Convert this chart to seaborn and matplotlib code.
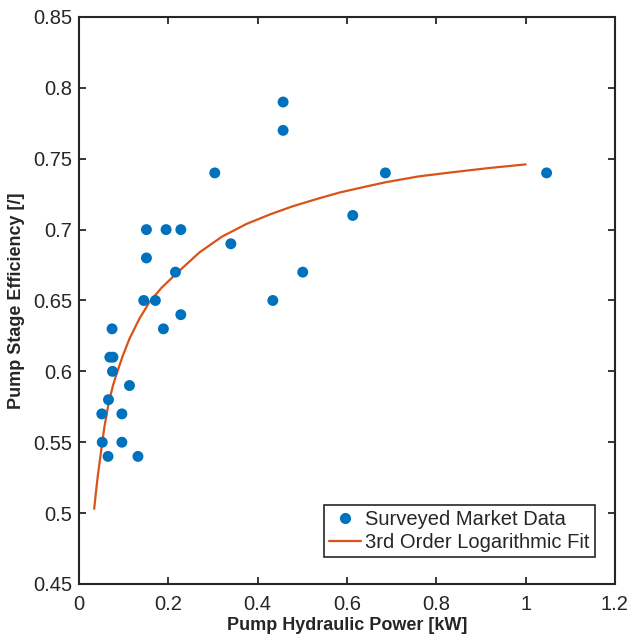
import matplotlib
matplotlib.use("Agg")
import matplotlib.pyplot as plt
import seaborn as sns
import pandas as pd
from matplotlib.lines import Line2D

# Surveyed market data
power_kw = [0.151, 0.195, 0.228, 0.340, 0.151, 0.216, 0.145, 0.171, 0.228,
            0.074, 0.189, 0.069, 0.076, 0.075, 0.113, 0.066, 0.051, 0.096,
            0.052, 0.096, 0.065, 0.132,
            0.457, 0.457, 0.304, 0.686, 1.047, 0.613, 0.501, 0.434]
efficiency = [0.70, 0.70, 0.70, 0.69, 0.68, 0.67, 0.65, 0.65, 0.64,
              0.63, 0.63, 0.61, 0.61, 0.60, 0.59, 0.58, 0.57, 0.57,
              0.55, 0.55, 0.54, 0.54,
              0.79, 0.77, 0.74, 0.74, 0.74, 0.71, 0.67, 0.65]

# 3rd order logarithmic fit
fit_x = [0.034, 0.038, 0.042, 0.050, 0.057, 0.066, 0.076, 0.084, 0.098, 0.113,
         0.135, 0.158, 0.185, 0.218, 0.270, 0.320, 0.375, 0.430, 0.479, 0.539,
         0.584, 0.640, 0.688, 0.760, 0.837, 0.920, 1.0]
fit_y = [0.503, 0.515, 0.526, 0.545, 0.561, 0.577, 0.590, 0.598, 0.611, 0.623,
         0.637, 0.649, 0.659, 0.669, 0.684, 0.695, 0.704, 0.711, 0.7165, 0.7222,
         0.7262, 0.7302, 0.7335, 0.7375, 0.7405, 0.7435, 0.746]

xticks = [0, 0.2, 0.4, 0.6, 0.8, 1, 1.2]
xtick_labels = ["0", "0.2", "0.4", "0.6", "0.8", "1", "1.2"]
yticks = [0.45, 0.5, 0.55, 0.6, 0.65, 0.7, 0.75, 0.8, 0.85]
ytick_labels = ["0.45", "0.5", "0.55", "0.6", "0.65", "0.7", "0.75", "0.8", "0.85"]

sns.set_style("white")
plt.rcParams['font.family'] = ['Liberation Sans', 'DejaVu Sans']

BLUE = "#0072BD"
ORANGE = "#D95319"
AXC = "#262626"

fig = plt.figure(figsize=(6.29, 6.36), dpi=100)
ax = fig.add_axes([0.1256, 0.0818, 0.852, 0.8915])

df = pd.DataFrame({"x": power_kw, "y": efficiency})
fit = pd.DataFrame({"x": fit_x, "y": fit_y})

sns.scatterplot(data=df, x="x", y="y", ax=ax, color=BLUE, s=62,
                edgecolor="none", linewidth=0, zorder=3)
sns.lineplot(data=fit, x="x", y="y", ax=ax, color=ORANGE, linewidth=1.6,
             sort=False, estimator=None, zorder=2)

ax.set_xlim(0, 1.2)
ax.set_ylim(0.45, 0.85)
ax.set_xticks(xticks)
ax.set_xticklabels(xtick_labels)
ax.set_yticks(yticks)
ax.set_yticklabels(ytick_labels)

ax.set_xlabel("Pump Hydraulic Power [kW]", fontsize=13, fontweight="bold", labelpad=2)
ax.set_ylabel("Pump Stage Efficiency [/]", fontsize=13, fontweight="bold", labelpad=6)

for sp in ax.spines.values():
    sp.set_visible(True)
    sp.set_color(AXC)
    sp.set_linewidth(1.5)

ax.tick_params(axis="both", which="major", direction="in", length=5, width=1.3,
               color=AXC, labelsize=14.5, labelcolor=AXC,
               top=True, right=True, bottom=True, left=True)
ax.tick_params(axis="x", pad=8)
ax.tick_params(axis="y", pad=5)

handles = [
    Line2D([], [], marker="o", linestyle="none", color=BLUE, markersize=7),
    Line2D([], [], color=ORANGE, linewidth=1.6),
]
leg = ax.legend(handles, ["Surveyed Market Data", "3rd Order Logarithmic Fit"],
                loc="lower right", bbox_to_anchor=(0.962, 0.048),
                fontsize=14.5, frameon=True, fancybox=False, framealpha=1,
                edgecolor="#262626", borderpad=0.25, handlelength=1.6,
                handletextpad=0.2, labelspacing=0.2, borderaxespad=0)
leg.get_frame().set_linewidth(1.2)

fig.savefig("out.png", dpi=100)
